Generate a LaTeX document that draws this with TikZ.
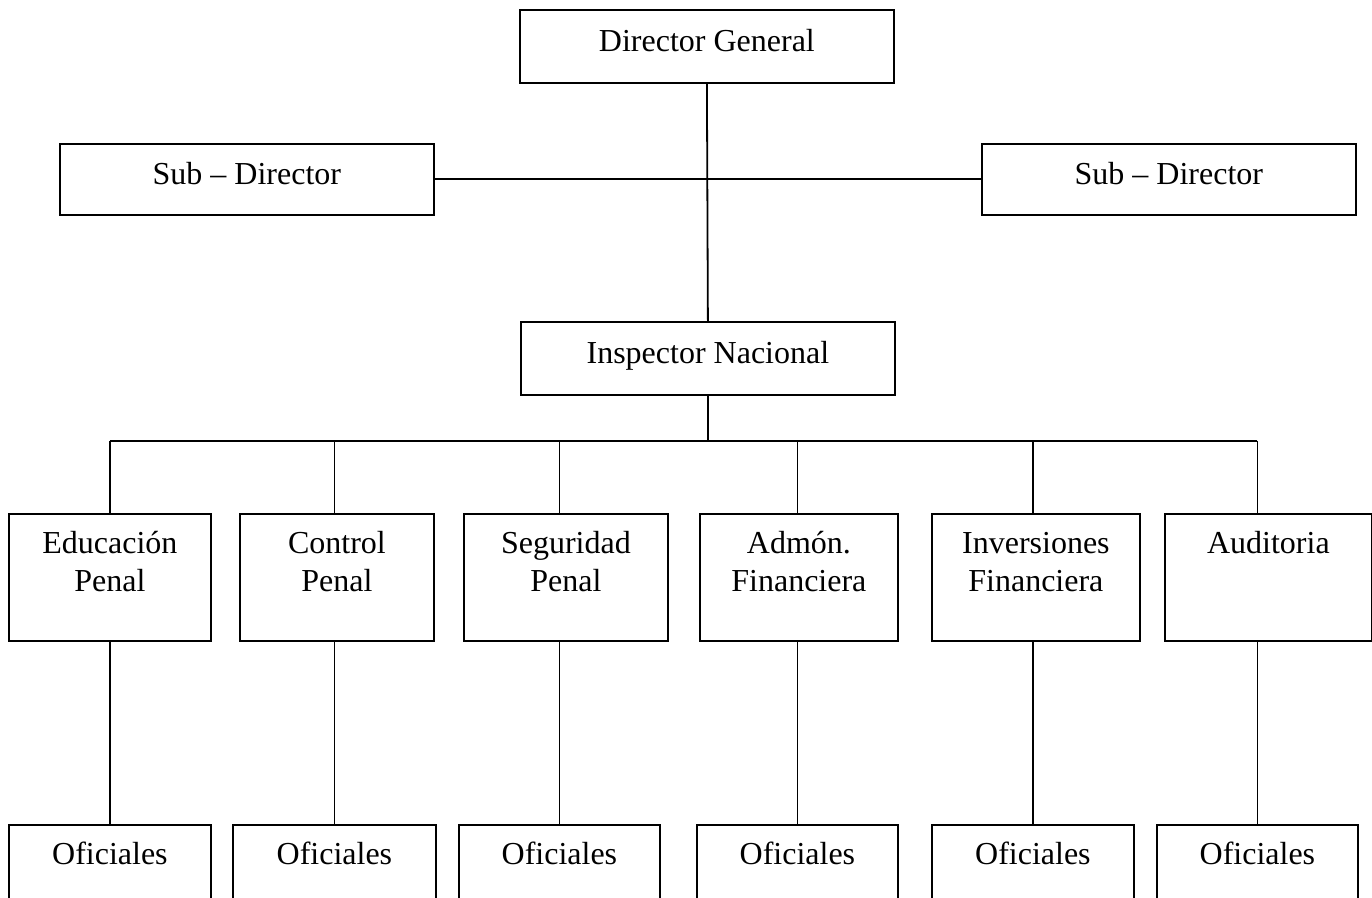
\documentclass[tikz,border=0pt]{standalone}
\usepackage{fontspec}
\setmainfont{Liberation Serif}
\usepackage{tikz}
\usetikzlibrary{calc}

\newcommand{\doslineas}[2]{\begin{tabular}[t]{@{}c@{}}#1\\#2\end{tabular}}

\begin{document}
\begin{tikzpicture}[x=0.5pt, y=-0.5pt]
        % Rows of the chart, in pixels from the top of the page
        \pgfmathsetmacro{\filadep}{513}
        \pgfmathsetmacro{\filaofi}{824}
        \pgfmathsetmacro{\barra}{441}

        % Boxes keep their text near the top, like the text boxes of a word processor
        \tikzset{
            caja/.style={draw, line width=0.9pt, rectangle, anchor=north west,
                inner xsep=0pt, inner ysep=0pt,
                font=\fontsize{16}{19}\selectfont},
            cajadir/.style={caja, minimum width=187pt, text height=21pt, text depth=15.5pt},
            cajasub/.style={caja, minimum width=187pt, text height=20.5pt, text depth=15pt},
            cajadep/.style={caja, text height=20pt, text depth=43.5pt},
        }

        % Page size, the last row runs off the bottom
        \useasboundingbox (0, 0) rectangle (1372, 898);
        \clip (0, 0) rectangle (1372, 898);

        % Direction
        \node[cajadir] (dirgen) at (519, 9) {Director General};
        \node[cajasub] (subizq) at (59, 143) {Sub – Director};
        \node[cajasub] (subder) at (981, 143) {Sub – Director};
        \node[cajadir] (insp) at (520, 321) {Inspector Nacional};

        % Departments
        \node[cajadep, minimum width=101pt] (dep1) at (8, \filadep) {\doslineas{Educación}{Penal}};
        \node[cajadep, minimum width=97pt] (dep2) at (239, \filadep) {\doslineas{Control}{Penal}};
        \node[cajadep, minimum width=102pt] (dep3) at (463, \filadep) {\doslineas{Seguridad}{Penal}};
        \node[cajadep, minimum width=99pt] (dep4) at (699, \filadep) {\doslineas{Admón.}{Financiera}};
        \node[cajadep, minimum width=104pt] (dep5) at (931, \filadep) {\doslineas{Inversiones}{Financiera}};
        \node[cajadep, minimum width=103.5pt] (dep6) at (1164, \filadep) {Auditoria};

        % Officers under each department
        \node[cajadep, minimum width=101pt] (ofi1) at (8, \filaofi) {Oficiales};
        \node[cajadep, minimum width=101.5pt] (ofi2) at (232, \filaofi) {Oficiales};
        \node[cajadep, minimum width=100.5pt] (ofi3) at (458, \filaofi) {Oficiales};
        \node[cajadep, minimum width=100.5pt] (ofi4) at (696, \filaofi) {Oficiales};
        \node[cajadep, minimum width=101pt] (ofi5) at (931, \filaofi) {Oficiales};
        \node[cajadep, minimum width=100.5pt] (ofi6) at (1156, \filaofi) {Oficiales};

        \coordinate (rama) at (0, \barra);

        \begin{scope}[line width=0.9pt]
            \draw (dirgen.south) -- (insp.north);
            \draw (subizq.east) -- (subder.west);
            \draw (insp.south) -- (insp.south |- rama);
            \draw (ofi1.north |- rama) -- (ofi6.north |- rama);

            \draw (ofi1.north |- rama) -- (ofi1.north |- dep1.north);
            \draw (ofi2.north |- rama) -- (ofi2.north |- dep2.north);
            \draw (ofi3.north |- rama) -- (ofi3.north |- dep3.north);
            \draw (ofi4.north |- rama) -- (ofi4.north |- dep4.north);
            \draw (ofi5.north |- rama) -- (ofi5.north |- dep5.north);
            \draw (ofi6.north |- rama) -- (ofi6.north |- dep6.north);

            \draw (ofi1.north |- dep1.south) -- (ofi1.north);
            \draw (ofi2.north |- dep2.south) -- (ofi2.north);
            \draw (ofi3.north |- dep3.south) -- (ofi3.north);
            \draw (ofi4.north |- dep4.south) -- (ofi4.north);
            \draw (ofi5.north |- dep5.south) -- (ofi5.north);
            \draw (ofi6.north |- dep6.south) -- (ofi6.north);
        \end{scope}

\end{tikzpicture}
\end{document}
